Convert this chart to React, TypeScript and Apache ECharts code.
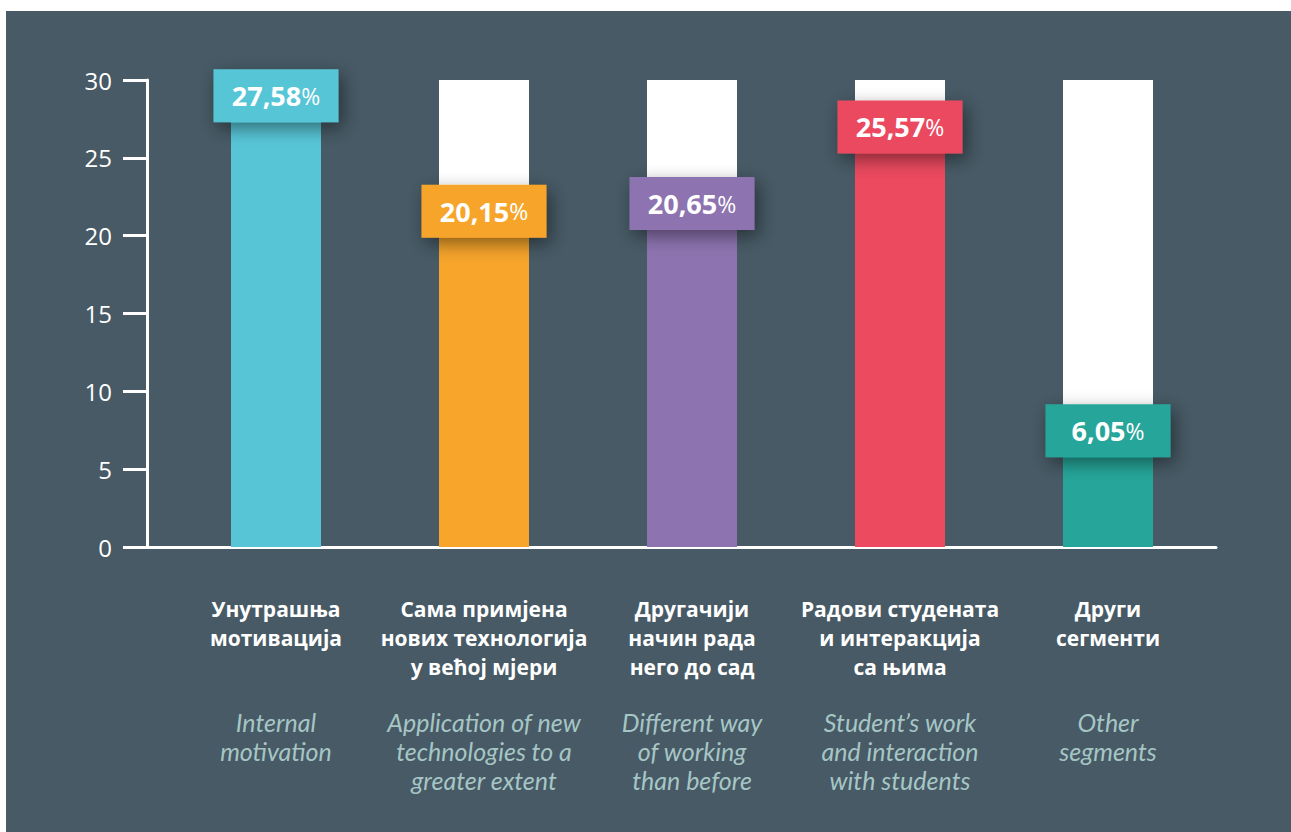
import React, { useEffect, useRef } from "react";
import * as echarts from "echarts";

const categoriesSr = [
  "Унутрашња\nмотивација",
  "Сама примјена\nнових технологија\nу већој мјери",
  "Другачији\nначин рада\nнего до сад",
  "Радови студената\nи интеракција\nса њима",
  "Други\nсегменти",
];
const categoriesEn = [
  "Internal\nmotivation",
  "Application of new\ntechnologies to a\ngreater extent",
  "Different way\nof working\nthan before",
  "Student’s work\nand interaction\nwith students",
  "Other\nsegments",
];
const values = [27.58, 20.15, 20.65, 25.57, 6.05];
const maxValues = [30, 30, 30, 30, 30];
const barColors = ["#57c5d6", "#f7a52b", "#8d73b0", "#eb4a5f", "#26a69a"];
const yMin = 0;
const yMax = 30;
const yInterval = 5;

const FONT = "'Open Sans', 'Noto Sans', sans-serif";
const FONT_EN = "Lato, 'Open Sans', sans-serif";
const BG = "#475a65";

export default function App() {
  const ref = useRef<HTMLDivElement>(null);
  useEffect(() => {
    if (!ref.current) return;
    const chart = echarts.init(ref.current, undefined, { renderer: "svg" });
    const option: any = {
      animation: false,
      backgroundColor: "#ffffff",
      textStyle: { fontFamily: FONT },
      graphic: [
        {
          type: "rect",
          z: -100,
          silent: true,
          shape: { x: 6, y: 11, width: 1285, height: 821 },
          style: { fill: BG },
        },
      ],
      grid: [
        { left: 172, top: 80, width: 1040, height: 467 },
        { left: 147, top: 80, width: 1069, height: 467 },
      ],
      xAxis: [
        {
          type: "category",
          gridIndex: 0,
          position: "bottom",
          data: categoriesSr,
          axisLine: { show: false },
          axisTick: { show: false },
          axisLabel: {
            interval: 0,
            margin: 47,
            color: "#ffffff",
            fontFamily: FONT,
            fontWeight: 700,
            fontSize: 21,
            lineHeight: 29,
            verticalAlign: "top",
          },
        },
        {
          type: "category",
          gridIndex: 0,
          position: "bottom",
          data: categoriesEn,
          axisLine: { show: false },
          axisTick: { show: false },
          axisLabel: {
            interval: 0,
            margin: 160,
            color: "#a6c6c5",
            fontFamily: FONT_EN,
            fontWeight: 400,
            fontStyle: "italic",
            fontSize: 25,
            lineHeight: 29,
            verticalAlign: "top",
          },
        },
        {
          type: "value",
          gridIndex: 1,
          min: 0,
          max: 1,
          axisLine: { show: true, lineStyle: { color: "#ffffff", width: 3, cap: "round" } },
          axisTick: { show: false },
          axisLabel: { show: false },
          splitLine: { show: false },
        },
      ],
      yAxis: [
        {
          type: "value",
          gridIndex: 0,
          min: yMin,
          max: yMax,
          interval: yInterval,
          offset: 25,
          axisLine: { show: true, lineStyle: { color: "#ffffff", width: 3 } },
          axisTick: { show: true, length: 24, lineStyle: { color: "#ffffff", width: 3 } },
          axisLabel: { margin: 35, color: "#ffffff", fontSize: 24, fontFamily: FONT },
          splitLine: { show: false },
        },
        {
          type: "value",
          gridIndex: 1,
          min: 0,
          max: 1,
          show: false,
        },
      ],
      series: [
        {
          type: "bar",
          xAxisIndex: 0,
          yAxisIndex: 0,
          data: maxValues,
          barWidth: 90,
          itemStyle: { color: "#ffffff" },
          silent: true,
          z: 1,
        },
        {
          type: "bar",
          xAxisIndex: 0,
          yAxisIndex: 0,
          barWidth: 90,
          barGap: "-100%",
          z: 2,
          data: values.map((v, i) => ({
            value: v,
            itemStyle: { color: barColors[i] },
            label: { backgroundColor: barColors[i] },
          })),
          label: {
            show: true,
            position: "top",
            distance: 22,
            width: 125,
            height: 53,
            lineHeight: 53,
            align: "center",
            verticalAlign: "middle",
            shadowBlur: 18,
            shadowOffsetX: 4,
            shadowOffsetY: 6,
            shadowColor: "rgba(0,0,0,0.45)",
            formatter: (p: any) =>
              `{v|${Number(p.value).toFixed(2).replace(".", ",")}}{p|%}`,
            rich: {
              v: { fontSize: 27, fontWeight: 700, color: "#ffffff", fontFamily: FONT, lineHeight: 53 },
              p: { fontSize: 23, color: "#ffffff", fontFamily: FONT, lineHeight: 53 },
            },
          },
        },
      ],
    };
    chart.setOption(option);
    return () => chart.dispose();
  }, []);
  return (
    <div
      ref={ref}
      style={{ position: "absolute", left: 0, top: 0, width: 1291, height: 832 }}
    />
  );
}
